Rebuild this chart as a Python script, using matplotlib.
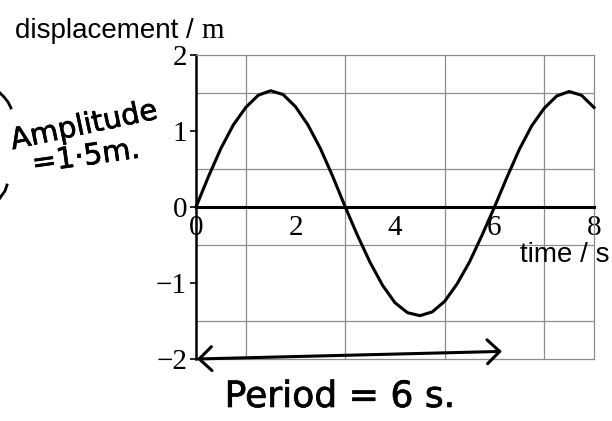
import matplotlib
matplotlib.use("Agg")
import matplotlib.pyplot as plt
import matplotlib.patheffects as pe
from matplotlib.lines import Line2D
from matplotlib.patches import ArrowStyle
import numpy as np

# displacement of the oscillator, read every 0.25 s
time_s = [0.0, 0.25, 0.5, 0.75, 1.0, 1.25, 1.5, 1.75, 2.0, 2.25, 2.5, 2.75,
          3.0, 3.25, 3.5, 3.75, 4.0, 4.25, 4.5, 4.75, 5.0, 5.25, 5.5, 5.75,
          6.0, 6.25, 6.5, 6.75, 7.0, 7.25, 7.5, 7.75, 8.0]
disp_m = [0.0, 0.40, 0.77, 1.08, 1.31, 1.47, 1.53, 1.48, 1.32, 1.08, 0.77, 0.40,
          0.0, -0.38, -0.73, -1.03, -1.26, -1.39, -1.43, -1.38, -1.24, -1.01, -0.72, -0.37,
          0.0, 0.39, 0.76, 1.07, 1.30, 1.46, 1.52, 1.47, 1.31]

x_ticks = [0, 2, 4, 6, 8]
y_ticks = [-2, -1, 0, 1, 2]
x_grid = [0, 1, 2, 3, 4, 5, 6, 7, 8]
y_grid = [-2, -1.5, -1, -0.5, 0, 0.5, 1, 1.5, 2]

amplitude = 1.5
period = 6

serif = "Liberation Serif"
sans = "Liberation Sans"
hand = "DejaVu Sans"
grid_col = "#8c8c8c"

fig = plt.figure(figsize=(6.12, 4.21), dpi=100)
ax = fig.add_axes([196 / 612, 1 - 359 / 421, 398 / 612, 304 / 421])
ax.set_xlim(0, 8)
ax.set_ylim(-2, 2)

# graph paper
ax.set_xticks(x_grid, minor=True)
ax.set_yticks(y_grid, minor=True)
ax.grid(which="minor", color=grid_col, linewidth=0.9)
ax.grid(which="major", visible=False)
ax.tick_params(which="minor", length=0)
ax.axhline(-2, color=grid_col, linewidth=0.9, clip_on=False)

for side in ["top", "right"]:
    ax.spines[side].set_color(grid_col)
    ax.spines[side].set_linewidth(0.9)
ax.spines["left"].set_linewidth(1.8)
ax.spines["bottom"].set_position(("data", 0))
ax.spines["bottom"].set_linewidth(2.2)

ax.set_xticks(x_ticks)
ax.set_xticklabels([str(v) for v in x_ticks], fontfamily=serif, fontsize=21)
ax.set_yticks(y_ticks)
ax.set_yticklabels([str(v).replace("-", "\u2212") for v in y_ticks],
                   fontfamily=serif, fontsize=21)
ax.tick_params(axis="x", which="major", length=0, pad=6)
ax.tick_params(axis="y", which="major", length=4, width=1.2, pad=2.5)

ax.plot(time_s, disp_m, color="black", linewidth=2.2, clip_on=False, zorder=3)

# axis titles
t1 = fig.text(15 / 612, 1 - 38 / 421, "displacement / ", fontfamily=sans,
              fontsize=20, va="baseline", ha="left")
ax.annotate("m", xy=(1, 0), xycoords=t1, va="bottom", ha="left",
            fontfamily=serif, fontsize=21)
fig.text(609 / 612, 1 - 262 / 421, "time / s", fontfamily=sans, fontsize=20,
         va="baseline", ha="right")

# pen notes
pen = [pe.withStroke(linewidth=0.5, foreground="black")]
fig.text(84 / 612, 1 - 126 / 421, "Amplitude", fontfamily=hand, fontsize=21,
         rotation=12, ha="center", va="center", path_effects=pen)
fig.text(86 / 612, 1 - 157 / 421, f"={amplitude:g}m.".replace(".", "\u00b7", 1),
         fontfamily=hand, fontsize=21, rotation=8, ha="center", va="center",
         path_effects=pen)
fig.text(340 / 612, 1 - 397 / 421, f"Period = {period} s.", fontfamily=hand,
         fontsize=26, ha="center", va="center", path_effects=pen)

ax.annotate("", xy=(0.02, -2.0), xytext=(6.15, -1.9),
            arrowprops=dict(arrowstyle=ArrowStyle("<->", head_length=0.45, head_width=0.43),
                            mutation_scale=20, color="black", linewidth=2.2,
                            shrinkA=0, shrinkB=0),
            annotation_clip=False)

# bracket ends at the left edge
for xs, ys in [([0, 4, 8, 11], [93, 97, 102, 108]), ([7, 5, 2, 0], [185, 191, 195, 198])]:
    fig.add_artist(Line2D(np.array(xs) / 612, 1 - np.array(ys) / 421,
                          transform=fig.transFigure, color="black", linewidth=2))

plt.savefig("out.png", dpi=100)
